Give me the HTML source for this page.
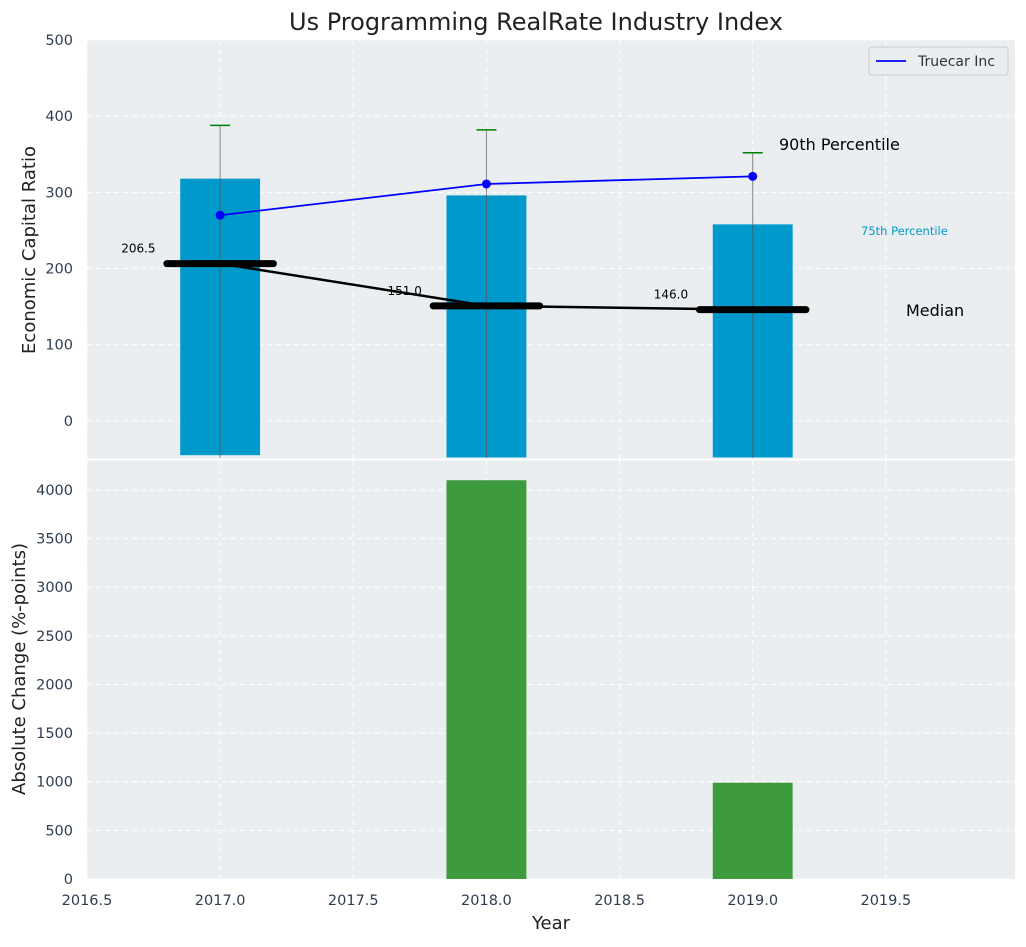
<!DOCTYPE html>
<html><head><meta charset="utf-8">
<style>
body{margin:0;background:#fff;font-family:"Liberation Sans","DejaVu Sans",sans-serif;}
svg text{font-family:"DejaVu Sans","Liberation Sans",sans-serif;}
</style></head>
<body>
<svg id="chart" width="1026" height="942" xmlns="http://www.w3.org/2000/svg">
<text x="536" y="30" font-size="24" text-anchor="middle" fill="#222">Us Programming RealRate Industry Index</text>
</svg>
<script>
const years = [2017, 2018, 2019];
const barValues = [318, 296, 258];
const barBottoms = [-45, -48, -48];
const errTops = [388, 382, 352];
const truecar = [270, 311, 321];
const medians = [206.5, 151.0, 146.0];
const changes = [0, 4100, 990];
const xTicks = [2016.5, 2017, 2017.5, 2018, 2018.5, 2019, 2019.5];
const yTopTicks = [0, 100, 200, 300, 400, 500];
const yBotTicks = [0, 500, 1000, 1500, 2000, 2500, 3000, 3500, 4000];

const NS = "http://www.w3.org/2000/svg";
const svg = document.getElementById('chart');
const L = 87, R = 1015, T1 = 40, B1 = 459, T2 = 460, B2 = 879;
const xmin = 2016.5, xmax = 2019.985;
const x = v => L + (v - xmin) / (xmax - xmin) * (R - L);
const yT = v => B1 - (v + 50) / 550 * (B1 - T1);
const yB = v => B2 - v / 4308 * (B2 - T2);

function el(tag, attrs, parent) {
  const e = document.createElementNS(NS, tag);
  for (const k in attrs) e.setAttribute(k, attrs[k]);
  (parent || svg).appendChild(e);
  return e;
}
function txt(s, attrs) { const t = el('text', attrs); t.textContent = s; return t; }

let bg = el('rect', {x: L, y: T1, width: R - L, height: B1 - T1, fill: '#eaeef0'});


bg = el('rect', {x: L, y: T2, width: R - L, height: B2 - T2, fill: '#eaeef0'});



xTicks.forEach(v => {
  el('line', {x1: x(v), x2: x(v), y1: T1, y2: B1, stroke: '#fff', 'stroke-dasharray': '5,4', 'stroke-width': 1});
  el('line', {x1: x(v), x2: x(v), y1: T2, y2: B2, stroke: '#fff', 'stroke-dasharray': '5,4', 'stroke-width': 1});
  const t = txt(v.toFixed(1), {x: x(v), y: 905, 'font-size': 14.5, 'text-anchor': 'middle', fill: '#2e3e50'});
  
  
});
yTopTicks.forEach(v => {
  el('line', {x1: L, x2: R, y1: yT(v), y2: yT(v), stroke: '#fff', 'stroke-dasharray': '5,4', 'stroke-width': 1});
  const t = txt(String(v), {x: 73, y: yT(v) + 5, 'font-size': 14.5, 'text-anchor': 'end', fill: '#2e3e50'});
  
  
});
yBotTicks.forEach(v => {
  el('line', {x1: L, x2: R, y1: yB(v), y2: yB(v), stroke: '#fff', 'stroke-dasharray': '5,4', 'stroke-width': 1});
  const t = txt(String(v), {x: 73, y: yB(v) + 5, 'font-size': 14.5, 'text-anchor': 'end', fill: '#2e3e50'});
  
  
});
el('line', {x1: L, x2: R, y1: 459.5, y2: 459.5, stroke: '#fff', 'stroke-width': 2});

years.forEach((yr, i) => {
  const b = el('rect', {x: x(yr - 0.15), y: yT(barValues[i]), width: x(yr + 0.15) - x(yr - 0.15), height: yT(barBottoms[i]) - yT(barValues[i]), fill: '#0099cc'});
  
  
  const e = el('line', {x1: x(yr), x2: x(yr), y1: yT(errTops[i]), y2: B1 - 1, stroke: '#555', 'stroke-width': 1, opacity: 0.7});
  
  
  const c = el('line', {x1: x(yr) - 10, x2: x(yr) + 10, y1: yT(errTops[i]), y2: yT(errTops[i]), stroke: 'green', 'stroke-width': 1.5});
  
  
});

const medPts = years.map((yr, i) => x(yr) + ',' + yT(medians[i])).join(' ');
const ml = el('polyline', {points: medPts, fill: 'none', stroke: '#000', 'stroke-width': 2.5});


years.forEach((yr, i) => {
  const s = el('line', {x1: x(yr - 0.2), x2: x(yr + 0.2), y1: yT(medians[i]), y2: yT(medians[i]), stroke: '#000', 'stroke-width': 7, 'stroke-linecap': 'round'});
  
  
  const t = txt(medians[i].toFixed(1), {x: x(yr - 0.22) - 6, y: yT(medians[i]) - 11, 'font-size': 12, 'text-anchor': 'end', fill: '#000'});
  
  
});

const tl = el('polyline', {points: years.map((yr, i) => x(yr) + ',' + yT(truecar[i])).join(' '), fill: 'none', stroke: 'blue', 'stroke-width': 1.8});


years.forEach((yr, i) => {
  const p = el('circle', {cx: x(yr), cy: yT(truecar[i]), r: 4.5, fill: 'blue'});
  
  
});

let a = txt('90th Percentile', {x: 779, y: 150, 'font-size': 16, fill: '#000'});


a = txt('75th Percentile', {x: 861, y: 235, 'font-size': 11.5, fill: '#0099cc'});


a = txt('Median', {x: 906, y: 316, 'font-size': 16, fill: '#000'});



const lg = el('g', {});


el('rect', {x: 869, y: 47, width: 139, height: 28, rx: 3, fill: '#eaeef0', stroke: '#ccc'}, lg);
el('line', {x1: 876, x2: 906, y1: 61, y2: 61, stroke: 'blue', 'stroke-width': 1.8}, lg);
const lt = el('text', {x: 918, y: 66, 'font-size': 14, fill: '#333'}, lg);
lt.textContent = 'Truecar Inc';

years.forEach((yr, i) => {
  if (changes[i] <= 0) return;
  const b = el('rect', {x: x(yr - 0.15), y: yB(changes[i]), width: x(yr + 0.15) - x(yr - 0.15), height: yB(0) - yB(changes[i]), fill: '#3d9b3d'});
  
  
});

a = txt('Economic Capital Ratio', {x: 0, y: 0, 'font-size': 18, 'text-anchor': 'middle', fill: '#222', transform: 'translate(35,250) rotate(-90)'});


a = txt('Absolute Change (%-points)', {x: 0, y: 0, 'font-size': 18, 'text-anchor': 'middle', fill: '#222', transform: 'translate(25,669) rotate(-90)'});


a = txt('Year', {x: 551, y: 929, 'font-size': 18, 'text-anchor': 'middle', fill: '#222'});


</script>
</body></html>
